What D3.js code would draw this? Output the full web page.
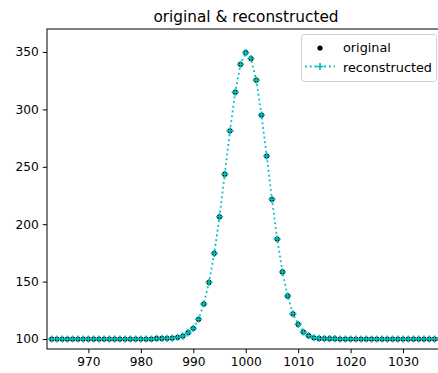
<!DOCTYPE html>
<html>
<head>
<meta charset="utf-8">
<script src="https://cdn.jsdelivr.net/npm/d3@7"></script>
<style>
  html, body { margin: 0; padding: 0; background: #fff; }
  svg { display: block; font-family: "DejaVu Sans", sans-serif; }
</style>
</head>
<body>
<svg id="chart" width="438" height="373"></svg>
<script>
// Sample positions (channels 963 … 1037)
const xValues = d3.range(963, 1038);

// Original profile values, one per channel
const original = [
  100, 100, 100, 100, 100, 100, 100, 100, 100, 100,          // 963–972
  100, 100, 100, 100, 100, 100, 100, 100, 100, 100,          // 973–982
  100.5, 100.5, 100.6, 100.8, 101.5, 102.6, 105.5, 109.3,    // 983–990
  117.2, 130.5, 149.4, 174.6, 206.5, 243.6, 281.3, 315,      // 991–998
  339.2, 349.4, 344.3, 325.5, 295.1, 259.4, 221.7, 187.1,    // 999–1006
  158.4, 137.5, 122, 112.8, 106.1, 102.9, 101.1, 100.5,      // 1007–1014
  100.4, 100.3, 100.3, 100, 100, 100, 100, 100, 100, 100,    // 1015–1024
  100, 100, 100, 100, 100, 100, 100, 100, 100, 100,          // 1025–1034
  100, 100, 100                                              // 1035–1037
];

// Reconstructed profile values
const reconstructed = [
  100, 100, 100, 100, 100, 100, 100, 100, 100, 100,
  100, 100, 100, 100, 100, 100, 100, 100, 100, 100,
  100.5, 100.5, 100.6, 100.8, 101.5, 102.6, 105.5, 109.3,
  117.2, 130.5, 149.4, 174.6, 206.5, 243.6, 281.3, 315,
  339.2, 349.4, 344.3, 325.5, 295.1, 259.4, 221.7, 187.1,
  158.4, 137.5, 122, 112.8, 106.1, 102.9, 101.1, 100.5,
  100.4, 100.3, 100.3, 100, 100, 100, 100, 100, 100, 100,
  100, 100, 100, 100, 100, 100, 100, 100, 100, 100,
  100, 100, 100
];

const xTicks = [970, 980, 990, 1000, 1010, 1020, 1030];
const yTicks = [100, 150, 200, 250, 300, 350];
const seriesNames = ["original", "reconstructed"];
const titleText = "original & reconstructed";

const cyan = "#00bfbf";
const plot = { left: 47, top: 29, right: 445, bottom: 349 };

const svg = d3.select("#chart");

const x = d3.scaleLinear().domain([962.1, 1038]).range([plot.left, plot.right]);
const y = d3.scaleLinear().domain([91.3, 370]).range([plot.bottom, plot.top]);

svg.append("defs").append("clipPath").attr("id", "plotClip")
  .append("rect")
  .attr("x", plot.left).attr("y", plot.top)
  .attr("width", plot.right - plot.left).attr("height", plot.bottom - plot.top);

// Axes
const xAxis = svg.append("g")
  .attr("transform", `translate(0,${plot.bottom})`)
  .call(d3.axisBottom(x).tickValues(xTicks).tickFormat(d3.format("d")).tickSizeOuter(0).tickSize(4.2).tickPadding(4));
const yAxis = svg.append("g")
  .attr("transform", `translate(${plot.left},0)`)
  .call(d3.axisLeft(y).tickValues(yTicks).tickFormat(d3.format("d")).tickSizeOuter(0).tickSize(4.2).tickPadding(4));

[xAxis, yAxis].forEach(g => {
  g.select(".domain").remove();
  g.selectAll(".tick line").attr("stroke", "#000").attr("stroke-width", 1);
  g.selectAll(".tick text").attr("fill", "#000").style("font-size", "12.2px")
    .style("font-family", "DejaVu Sans, sans-serif");
});

// Spines (left, top, bottom; right edge lies beyond the view)
svg.append("rect")
  .attr("x", plot.left).attr("y", plot.top)
  .attr("width", plot.right - plot.left).attr("height", plot.bottom - plot.top)
  .attr("fill", "none").attr("stroke", "#000").attr("stroke-width", 1);

const pts = xValues.map((v, i) => ({ x: v, o: original[i], r: reconstructed[i] }));

const body = svg.append("g").attr("clip-path", "url(#plotClip)");

// Original: black points
body.append("g").selectAll("circle").data(pts).join("circle")
  .attr("cx", d => x(d.x)).attr("cy", d => y(d.o)).attr("r", 2.6).attr("fill", "#000");

// Reconstructed: dotted cyan line with plus markers
const line = d3.line().x(d => x(d.x)).y(d => y(d.r));
body.append("path").datum(pts)
  .attr("d", line).attr("fill", "none").attr("stroke", cyan)
  .attr("stroke-width", 1.8).attr("stroke-dasharray", "1.8,3");

const plus = (g, cx, cy) => g.append("path")
  .attr("d", `M${cx - 3.6},${cy}H${cx + 3.6}M${cx},${cy - 3.6}V${cy + 3.6}`)
  .attr("stroke", cyan).attr("stroke-width", 1.6).attr("fill", "none");
const plusG = body.append("g");
pts.forEach(d => plus(plusG, x(d.x), y(d.r)));

// Title
svg.append("text")
  .attr("x", (plot.left + plot.right) / 2).attr("y", 22)
  .attr("text-anchor", "middle").attr("fill", "#000")
  .style("font-size", "15.3px").text(titleText);

// Legend
const lg = svg.append("g");
lg.append("rect")
  .attr("x", 301.5).attr("y", 34.5).attr("width", 135).attr("height", 47)
  .attr("rx", 3).attr("fill", "#fff").attr("fill-opacity", 0.8)
  .attr("stroke", "#d0d0d0").attr("stroke-width", 1);
lg.append("circle").attr("cx", 320).attr("cy", 48).attr("r", 2.6).attr("fill", "#000");
lg.append("path").attr("d", "M305,66.5H335").attr("stroke", cyan)
  .attr("stroke-width", 1.8).attr("stroke-dasharray", "1.8,3");
plus(lg, 320, 66.5);
lg.selectAll("text.lab").data(seriesNames).join("text").attr("class", "lab")
  .attr("x", 343).attr("y", (d, i) => 52 + i * 19.5)
  .attr("fill", "#000").style("font-size", "12.8px").text(d => d);
</script>
</body>
</html>
